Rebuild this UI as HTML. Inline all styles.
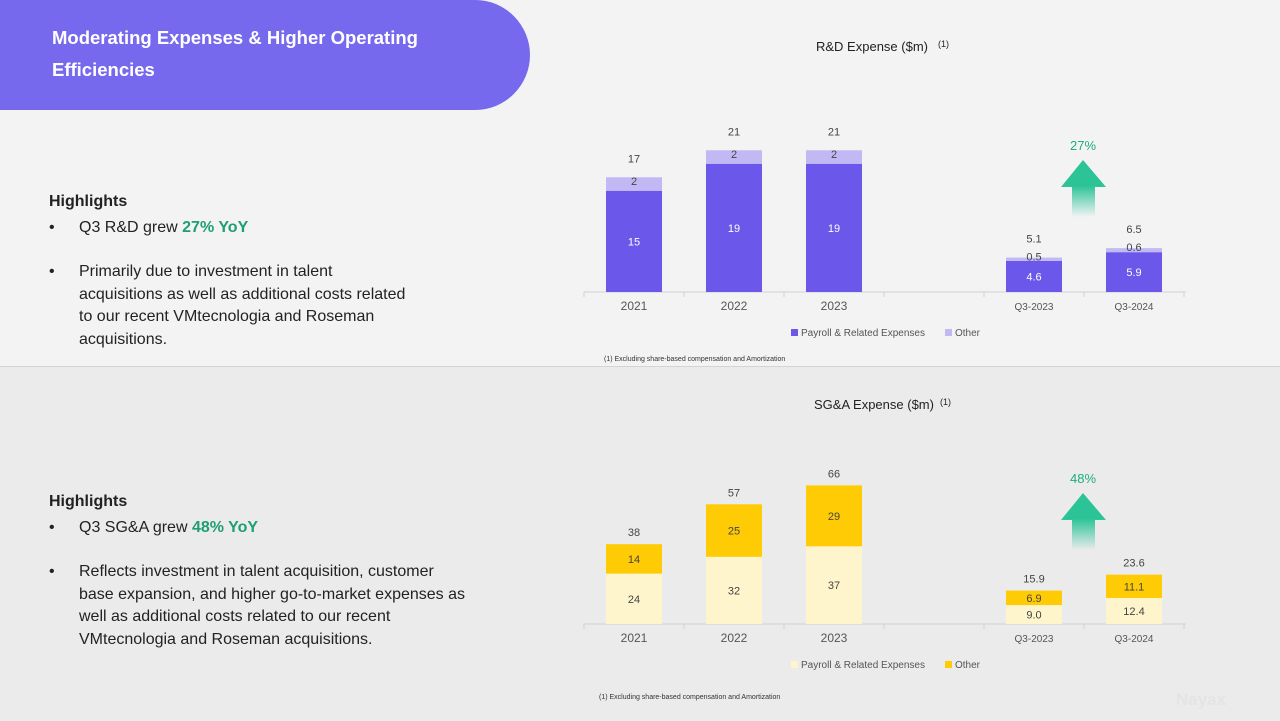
<!DOCTYPE html>
<html><head><meta charset="utf-8">
<style>
body{margin:0;width:1280px;height:720px;overflow:hidden;font-family:"Liberation Sans",sans-serif;}
#top{position:absolute;left:0;top:0;width:1280px;height:366px;background:#f3f3f4;}
#bot{position:absolute;left:0;top:366px;width:1280px;height:354px;background:#ebebeb;border-top:1px solid #d4d4d4;}
#hdr{position:absolute;left:0;top:0;width:530px;height:110px;background:#7669ee;border-radius:0 55px 55px 0;}
#hdr div{position:absolute;left:52px;top:22px;color:#fff;font-weight:bold;font-size:18.5px;line-height:32px;}
.hl{position:absolute;left:49px;color:#222;font-size:16px;line-height:22.5px;white-space:nowrap;}
.hl b.t{font-weight:bold;display:block;font-size:16px;margin-bottom:3px;}
.hl .li{position:relative;padding-left:30px;}
.hl .li:before{content:"•";position:absolute;left:0;}
.g{color:#1e9e73;font-weight:bold;}
svg{position:absolute;left:0;top:0;}
</style></head><body>
<div id="top"></div>
<div id="bot"></div>
<div id="hdr"><div>Moderating Expenses &amp; Higher Operating<br>Efficiencies</div></div>
<div class="hl" style="top:191px">
<b class="t">Highlights</b>
<div class="li">Q3 R&amp;D grew <span class="g">27% YoY</span></div>
<div style="height:22px"></div>
<div class="li">Primarily due to investment in talent<br>acquisitions as well as additional costs related<br>to our recent VMtecnologia and Roseman<br>acquisitions.</div>
</div>
<div class="hl" style="top:491px">
<b class="t">Highlights</b>
<div class="li">Q3 SG&amp;A grew <span class="g">48% YoY</span></div>
<div style="height:22px"></div>
<div class="li">Reflects investment in talent acquisition, customer<br>base expansion, and higher go-to-market expenses as<br>well as additional costs related to our recent<br>VMtecnologia and Roseman acquisitions.</div>
</div>
<svg id="chart" width="1280" height="720">
<defs><linearGradient id="fade" x1="0" y1="0" x2="0" y2="1"><stop offset="0" stop-color="#2cc497"/><stop offset="0.45" stop-color="#2cc497"/><stop offset="1" stop-color="#2cc497" stop-opacity="0"/></linearGradient></defs>
</svg>
<script>
const categories=["2021","2022","2023","","Q3-2023","Q3-2024"];
const rdPayroll=[15,19,19,null,4.6,5.9];
const rdOther=[2,2,2,null,0.5,0.6];
const rdTotal=["17","21","21","","5.1","6.5"];
const rdPayLbl=["15","19","19","","4.6","5.9"];
const rdOthLbl=["2","2","2","","0.5","0.6"];
const sgPayroll=[24,32,37,null,9.0,12.4];
const sgOther=[14,25,29,null,6.9,11.1];
const sgTotal=["38","57","66","","15.9","23.6"];
const sgPayLbl=["24","32","37","","9.0","12.4"];
const sgOthLbl=["14","25","29","","6.9","11.1"];
const svg=document.getElementById('chart');
const NS="http://www.w3.org/2000/svg";
function mk(t,a,txt){const e=document.createElementNS(NS,t);for(const k in a)e.setAttribute(k,a[k]);if(txt!==undefined)e.textContent=txt;svg.appendChild(e);return e;}
function xC(i){return 634+i*100;}
function chart(o){
  const y=v=>o.base-v*o.scale;
  const ax=mk('line',{x1:584,x2:1186,y1:o.base,y2:o.base,stroke:'#d0d0d0'});
  
  
  for(let i=0;i<=6;i++){const t=mk('line',{x1:584+i*100,x2:584+i*100,y1:o.base,y2:o.base+5,stroke:'#d0d0d0'});
    
    }
  categories.forEach((c,i)=>{
    const l=mk('text',{x:xC(i),y:o.base+18,'text-anchor':'middle','font-size':c.length>4?10:12,fill:'#555'},c);
    
    
    if(o.pay[i]==null)return;
    const p=o.pay[i],q=o.oth[i];
    const b1=mk('rect',{x:xC(i)-28,width:56,y:y(p),height:p*o.scale,fill:o.c1});
    
    
    const b2=mk('rect',{x:xC(i)-28,width:56,y:y(p+q),height:q*o.scale,fill:o.c2});
    
    
    const t1=mk('text',{x:xC(i),y:y(p/2)+4,'text-anchor':'middle','font-size':11,fill:o.t1},o.pl[i]);
    
    
    const qy=q*o.scale<14?y(p+q/2)+1:y(p+q/2)+4;
    const t2=mk('text',{x:xC(i),y:qy,'text-anchor':'middle','font-size':11,fill:o.t2},o.ol[i]);
    
    
    const t3=mk('text',{x:xC(i),y:y(p+q)-(q*o.scale<14?15:8),'text-anchor':'middle','font-size':11,fill:'#444'},o.tot[i]);
    
    
  });
  const ti=mk('text',{x:o.tx,y:o.ty,'text-anchor':'middle','font-size':13,fill:'#222'},o.title);
  
  
  const sup=mk('text',{x:o.tx+66,y:o.ty-4,'font-size':9,fill:'#222'},'(1)');
  
  
  const ly=o.base+44;
  const s1=mk('rect',{x:791,y:ly-7,width:7,height:7,fill:o.c1});
  
  
  const l1=mk('text',{x:801,y:ly,'font-size':10,fill:'#555'},'Payroll & Related Expenses');
  
  
  const s2=mk('rect',{x:945,y:ly-7,width:7,height:7,fill:o.c2});
  
  
  const l2=mk('text',{x:955,y:ly,'font-size':10,fill:'#555'},'Other');
  
  
  const fn=mk('text',{x:o.fx,y:o.fy,'font-size':7,fill:'#333'},'(1) Excluding share-based compensation and Amortization');
  
  
  const ay=o.ay;
  const ar=mk('path',{d:`M1083 ${ay} L1106 ${ay+27} L1095 ${ay+27} L1095 ${ay+57} L1072 ${ay+57} L1072 ${ay+27} L1061 ${ay+27} Z`,fill:'url(#fade)'});
  
  
  const pc=mk('text',{x:1083,y:ay-10,'text-anchor':'middle','font-size':13,fill:'#1eae7b'},o.pct);
  
  
}
chart({id:'rd',base:292,scale:6.75,pay:rdPayroll,oth:rdOther,pl:rdPayLbl,ol:rdOthLbl,tot:rdTotal,c1:'#6b57ea',c2:'#c2b9f4',t1:'#fff',t2:'#444',title:'R&D Expense ($m)',tx:872,ty:51,fx:604,fy:361,ay:160,pct:'27%'});
chart({id:'sga',base:624,scale:2.1,pay:sgPayroll,oth:sgOther,pl:sgPayLbl,ol:sgOthLbl,tot:sgTotal,c1:'#fff5cc',c2:'#ffcb05',t1:'#444',t2:'#444',title:'SG&A Expense ($m)',tx:874,ty:409,fx:599,fy:699,ay:493,pct:'48%'});
const logo=mk('text',{x:1176,y:705,'font-size':17,'font-weight':'bold',fill:'#e4e4e4'},'Nayax');


</script>
</body></html>
